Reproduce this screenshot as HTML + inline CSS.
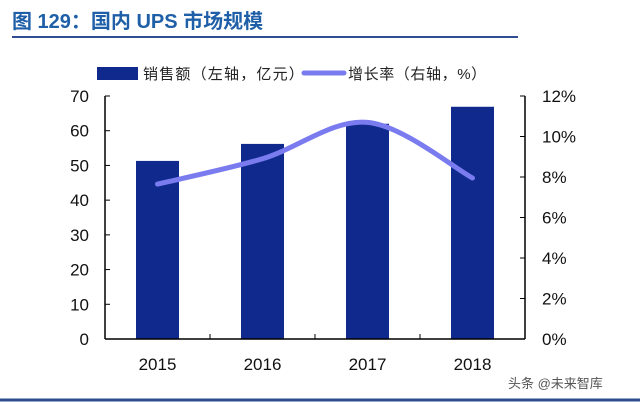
<!DOCTYPE html>
<html><head><meta charset="utf-8"><style>
body{margin:0;background:#fff;}
svg{display:block;font-family:"Liberation Sans","Noto Sans CJK SC",sans-serif;}
</style></head><body>
<svg id="c" width="640" height="402">
<text x="12" y="28" fill="#1f5fa8" font-size="20" font-weight="bold">图 129：国内 UPS 市场规模</text>
<line x1="12" y1="37" x2="518" y2="37" stroke="#2f4d8f" stroke-width="2"/>
<line x1="0" y1="400" x2="640" y2="400" stroke="#2f4d8f" stroke-width="3"/>
<g>
<rect x="97" y="67" width="41" height="13" fill="#0f2a8c"/>
<text x="143" y="79" font-size="15" fill="#222" letter-spacing="1.2">销售额（左轴，亿元）</text>
<line x1="304" y1="73" x2="344" y2="73" stroke="#7b7bf0" stroke-width="5" stroke-linecap="round"/>
<text x="348" y="79" font-size="15" fill="#222" letter-spacing="0.6">增长率（右轴，%）</text>
</g>
<g id="plot"></g>
<text x="508" y="388" font-size="13" fill="#555">头条 @未来智库</text>
</svg>
<script>
const categories = ["2015","2016","2017","2018"];
const sales = [51.3, 56.2, 62.0, 66.9];
const growth = [7.65, 8.9, 10.7, 7.95];
const leftTicks = [0,10,20,30,40,50,60,70];
const rightTicks = [0,2,4,6,8,10,12];

const X0=105, X1=525, Y0=339, Y1=96;
const yL = v => Y0 - (v/70)*(Y0-Y1);
const yR = v => Y0 - (v/12)*(Y0-Y1);
const band = (X1-X0)/categories.length;
const xC = i => X0 + band*(i+0.5);
const NS="http://www.w3.org/2000/svg";
const g=document.getElementById('plot');
function mk(t,a){const e=document.createElementNS(NS,t);for(const k in a)e.setAttribute(k,a[k]);g.appendChild(e);return e;}

sales.forEach((v,i)=>{
  const r=mk('rect',{x:xC(i)-21.5,y:yL(v),width:43,height:Y0-yL(v),fill:'#0f2a8c'});
  
  
});
let a=mk('line',{x1:X0,y1:Y1,x2:X0,y2:Y0,stroke:'#000','stroke-width':1.5});


a=mk('line',{x1:X1,y1:Y1,x2:X1,y2:Y0,stroke:'#000','stroke-width':1.5});


a=mk('line',{x1:X0,y1:Y0,x2:X1,y2:Y0,stroke:'#000','stroke-width':1.5});


leftTicks.forEach(v=>{
  mk('line',{x1:X0,y1:yL(v),x2:X0+5,y2:yL(v),stroke:'#000'});
  const t=mk('text',{x:X0-16,y:yL(v)+6,'text-anchor':'end','font-size':17,fill:'#111'});
  t.textContent=v;
  
  
});
rightTicks.forEach(v=>{
  mk('line',{x1:X1-5,y1:yR(v),x2:X1,y2:yR(v),stroke:'#000'});
  const t=mk('text',{x:X1+17,y:yR(v)+6,'font-size':17,fill:'#111'});
  t.textContent=v+'%';
  
  
});
for(let i=1;i<categories.length;i++){
  mk('line',{x1:X0+band*i,y1:Y0,x2:X0+band*i,y2:Y0-5,stroke:'#000'});
}
categories.forEach((c,i)=>{
  const t=mk('text',{x:xC(i),y:Y0+31,'text-anchor':'middle','font-size':17,fill:'#111'});
  t.textContent=c;
  
  
});
const pts=growth.map((v,i)=>[xC(i),yR(v)]);
let d='M'+pts[0][0]+','+pts[0][1];
for(let i=0;i<pts.length-1;i++){
  const p0=pts[i-1]||pts[i],p1=pts[i],p2=pts[i+1],p3=pts[i+2]||p2;
  const c1=[p1[0]+(p2[0]-p0[0])/6,p1[1]+(p2[1]-p0[1])/6];
  const c2=[p2[0]-(p3[0]-p1[0])/6,p2[1]-(p3[1]-p1[1])/6];
  d+=` C${c1[0]},${c1[1]} ${c2[0]},${c2[1]} ${p2[0]},${p2[1]}`;
}
const ln=mk('path',{d:d,fill:'none',stroke:'#7b7bf0','stroke-width':5,'stroke-linecap':'round'});


</script>
</body></html>
